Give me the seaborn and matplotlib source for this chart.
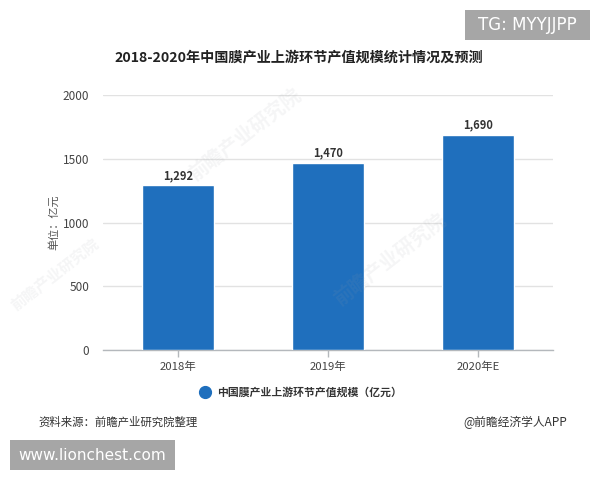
import pandas as pd
import matplotlib
matplotlib.use("Agg")
import matplotlib.pyplot as plt
from matplotlib.lines import Line2D
from matplotlib.patches import Rectangle
import seaborn as sns

sns.set_theme(style="white")
plt.rcParams['font.family'] = ['Noto Sans CJK SC', 'DejaVu Sans']

years = ["2018年", "2019年", "2020年E"]
values = [1292, 1470, 1690]
y_ticks = [0, 500, 1000, 1500, 2000]
series_name = "中国膜产业上游环节产值规模（亿元）"
title = "2018-2020年中国膜产业上游环节产值规模统计情况及预测"

df = pd.DataFrame({"year": years, "value": values})

W, H = 600, 480
fig = plt.figure(figsize=(6, 4.8), dpi=100, facecolor="white")
ax = fig.add_axes([103 / W, 1 - 350 / H, 450 / W, 255 / H])

bar_color = "#1f6fbd"
sns.barplot(data=df, x="year", y="value", color=bar_color, saturation=1,
            width=0.48, ax=ax, zorder=3)

ax.set_xlim(-0.5, 2.5)
ax.set_ylim(0, 2000)
ax.set_yticks(y_ticks)
ax.set_xlabel("")
ax.set_ylabel("")
ax.yaxis.grid(True, color="#e2e2e2", linewidth=1)
ax.set_axisbelow(True)
sns.despine(ax=ax, left=True)
ax.spines["bottom"].set_color("#b4b8bc")
ax.spines["bottom"].set_linewidth(1)
ax.tick_params(axis="y", length=7, width=1, color="#e2e2e2", labelsize=8.5,
               labelcolor="#444444", pad=3)
ax.tick_params(axis="x", length=5, width=1, color="#b4b8bc", labelsize=8.2,
               labelcolor="#444444", pad=3, bottom=True)

for i, v in enumerate(values):
    ax.text(i, v + 22, f"{v:,}", ha="center", va="bottom", fontsize=8,
            fontweight="bold", color="#333333", zorder=5)

# 水印
for x, y, size in [(245, 135, 14), (390, 260, 14), (55, 275, 11)]:
    fig.text(x / W, 1 - y / H, "前瞻产业研究院", fontsize=size, rotation=38,
             ha="center", va="center", color="#9aa0a6", alpha=0.1,
             fontweight="bold", zorder=6)

fig.text(299 / W, 1 - 58 / H, title, ha="center", va="center", fontsize=10.2,
         fontweight="bold", color="#222222")
fig.text(54 / W, 1 - 222 / H, "单位：亿元", rotation=90, ha="center", va="center",
         fontsize=8, color="#555555")

handle = Line2D([], [], marker="o", linestyle="", markersize=8.5, color=bar_color)
fig.legend([handle], [series_name], loc="center", bbox_to_anchor=(298 / W, 1 - 392 / H),
           frameon=False, handletextpad=0.1,
           prop={"size": 7.8, "weight": "bold"}, labelcolor="#333333")

fig.text(38 / W, 1 - 422 / H, "资料来源：前瞻产业研究院整理", ha="left", va="center",
         fontsize=8.2, color="#333333")
fig.text(567 / W, 1 - 422 / H, "@前瞻经济学人APP", ha="right", va="center",
         fontsize=8.5, color="#333333")

# 角标
for x0, y0, x1, y1, label, size in [(465, 10, 590, 40, "TG: MYYJJPP", 12),
                                    (10, 440, 175, 470, "www.lionchest.com", 11)]:
    fig.add_artist(Rectangle((x0 / W, 1 - y1 / H), (x1 - x0) / W, (y1 - y0) / H,
                             transform=fig.transFigure, facecolor="#a6a6a6",
                             edgecolor="none"))
    fig.text((x0 + x1) / 2 / W, 1 - (y0 + y1) / 2 / H, label, ha="center", va="center",
             fontsize=size, color="white", family="DejaVu Sans", zorder=10)

fig.savefig("out.png", dpi=100)
